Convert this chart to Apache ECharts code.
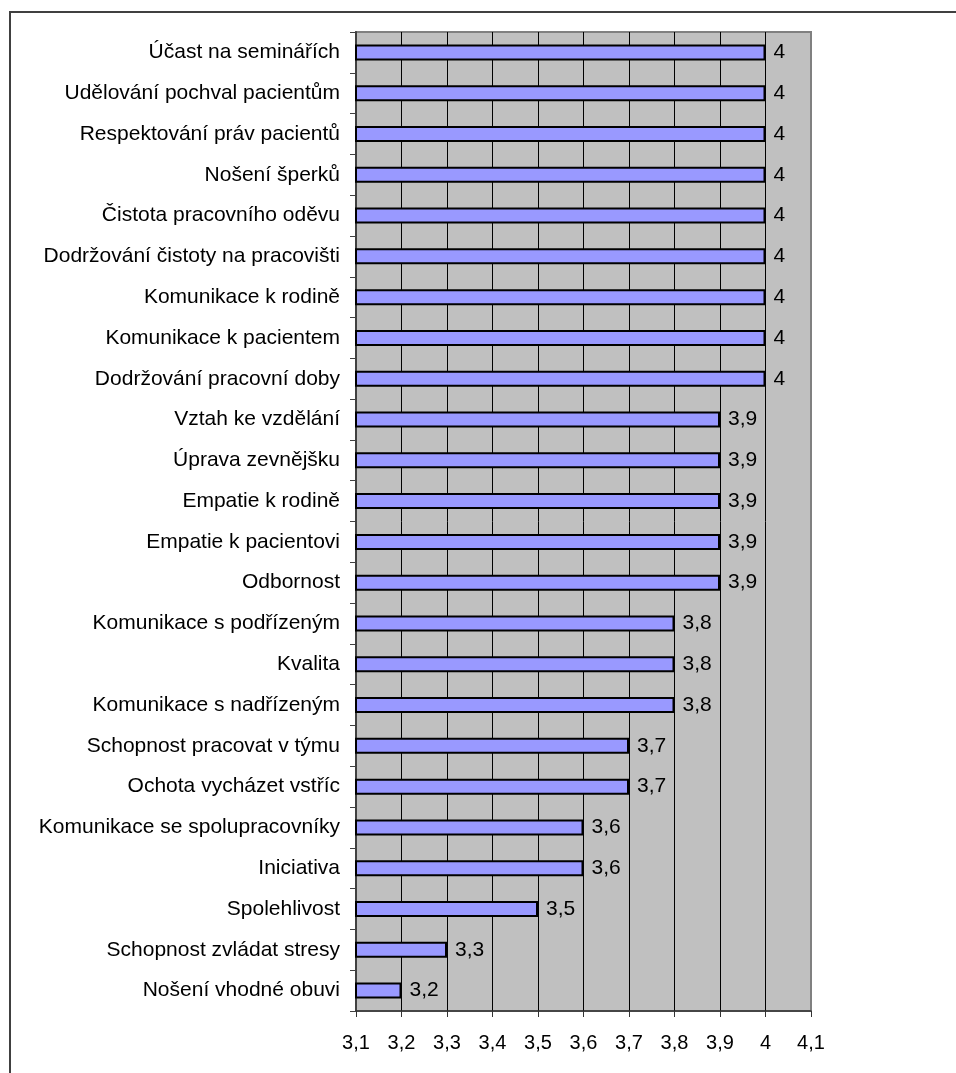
<!DOCTYPE html>
<html>
<head>
<meta charset="utf-8">
<script src="https://cdn.jsdelivr.net/npm/echarts@6/dist/echarts.min.js"></script>
<style>
  html, body { margin: 0; padding: 0; background: #fff; }
  #chart { width: 956px; height: 1073px; }
</style>
</head>
<body>
<div id="chart"></div>
<script>
// categories from top to bottom
const categories = [
  'Účast na seminářích',
  'Udělování pochval pacientům',
  'Respektování práv pacientů',
  'Nošení šperků',
  'Čistota pracovního oděvu',
  'Dodržování čistoty na pracovišti',
  'Komunikace k rodině',
  'Komunikace k pacientem',
  'Dodržování pracovní doby',
  'Vztah ke vzdělání',
  'Úprava zevnějšku',
  'Empatie k rodině',
  'Empatie k pacientovi',
  'Odbornost',
  'Komunikace s podřízeným',
  'Kvalita',
  'Komunikace s nadřízeným',
  'Schopnost pracovat v týmu',
  'Ochota vycházet vstříc',
  'Komunikace se spolupracovníky',
  'Iniciativa',
  'Spolehlivost',
  'Schopnost zvládat stresy',
  'Nošení vhodné obuvi'
];
const values = [4, 4, 4, 4, 4, 4, 4, 4, 4, 3.9, 3.9, 3.9, 3.9, 3.9, 3.8, 3.8, 3.8, 3.7, 3.7, 3.6, 3.6, 3.5, 3.3, 3.2];
const axisMin = 3.1;
const axisMax = 4.1;
const axisStep = 0.1;

const FONT = '"Liberation Sans", Arial, sans-serif';
const fmt = v => String(+(+v).toFixed(1)).replace('.', ',');

const chart = echarts.init(document.getElementById('chart'));
chart.setOption({
  animation: false,
  backgroundColor: '#fff',
  textStyle: { fontFamily: FONT },
  graphic: [{
    type: 'rect',
    shape: { x: 10, y: 12, width: 980, height: 1100 },
    style: { fill: 'none', stroke: '#404040', lineWidth: 2 },
    silent: true,
    z: -1
  }],
  grid: {
    left: 356, top: 32, right: 145, bottom: 62,
    show: true,
    backgroundColor: '#c0c0c0',
    borderColor: '#808080',
    borderWidth: 2
  },
  xAxis: {
    type: 'value',
    min: axisMin,
    max: axisMax,
    interval: axisStep,
    axisLine: { show: true, lineStyle: { color: '#333', width: 1.5 } },
    axisTick: { show: true, length: 6, lineStyle: { color: '#333' } },
    axisLabel: { formatter: fmt, fontSize: 20, color: '#000', margin: 22, fontFamily: FONT },
    splitLine: { show: true, showMinLine: false, showMaxLine: false, lineStyle: { color: '#000', width: 1 } }
  },
  yAxis: {
    type: 'category',
    inverse: true,
    data: categories,
    axisLine: { show: true, lineStyle: { color: '#404040', width: 2 } },
    axisTick: { show: true, length: 6, lineStyle: { color: '#404040' } },
    axisLabel: { fontSize: 21, color: '#000', margin: 16, fontFamily: FONT },
    splitLine: { show: false }
  },
  series: [{
    type: 'bar',
    data: values,
    barWidth: 16,
    itemStyle: { color: '#9999ff', borderColor: '#000', borderWidth: 2 },
    label: {
      show: true,
      position: 'right',
      distance: 8,
      formatter: p => fmt(p.value),
      fontSize: 21,
      color: '#000',
      fontFamily: FONT
    }
  }]
});
</script>
</body>
</html>
